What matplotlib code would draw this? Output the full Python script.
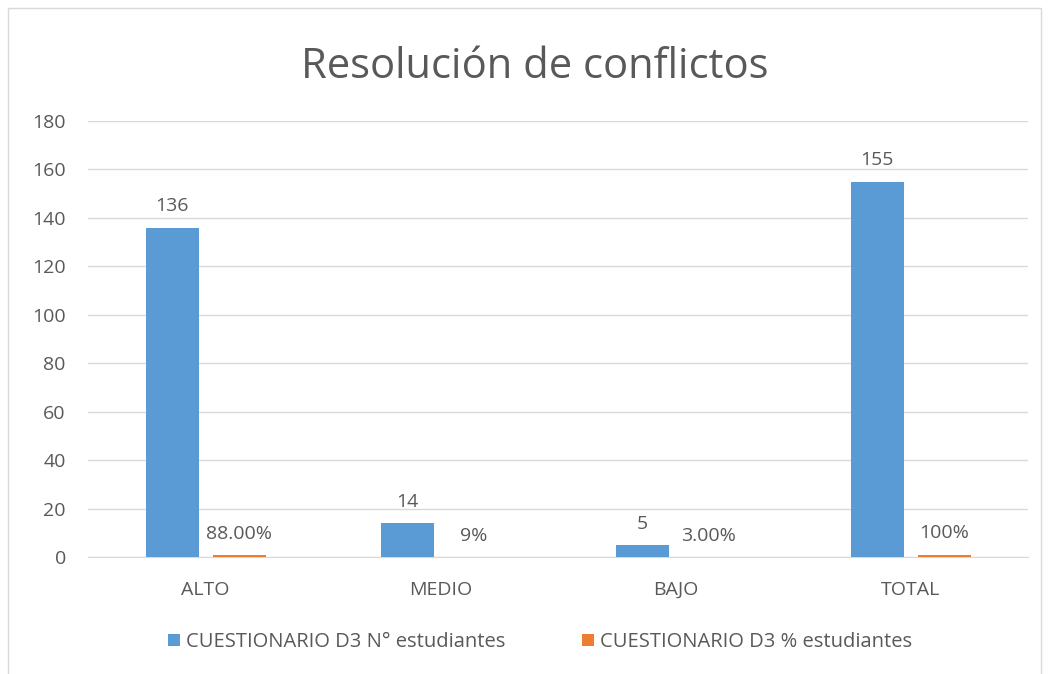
import numpy as np
import matplotlib.pyplot as plt
from matplotlib.patches import Rectangle

plt.rcParams['font.family'] = ['Open Sans', 'DejaVu Sans']

categories = ['ALTO', 'MEDIO', 'BAJO', 'TOTAL']
n_estudiantes = [136, 14, 5, 155]
pct_estudiantes = [0.88, 0.09, 0.03, 1.00]
pct_labels = ['88.00%', '9%', '3.00%', '100%']
series_names = ['CUESTIONARIO D3 N° estudiantes', 'CUESTIONARIO D3 % estudiantes']

blue = '#5b9bd5'
orange = '#ed7d31'
text_c = '#595959'
grid_c = '#d9d9d9'
fs = 14

W, H = 1049, 674
fig = plt.figure(figsize=(W / 100, H / 100), dpi=100)
# plot area in pixels: x 88..1028, y 121..557
ax = fig.add_axes([88 / W, 1 - 557 / H, 940 / W, 436 / H])

x = np.arange(len(categories))
bw = 53 / 235
off = 33.5 / 235
b1 = ax.bar(x - off, n_estudiantes, bw, color=blue, label=series_names[0], zorder=3)
b2 = ax.bar(x + off, pct_estudiantes, bw, color=orange, label=series_names[1], zorder=3)

for rect, v in zip(b1, n_estudiantes):
    ax.text(rect.get_x() + rect.get_width() / 2, v + 5, str(v), ha='center', va='bottom',
            fontsize=fs, color=text_c)
for rect, v, lab in zip(b2, pct_estudiantes, pct_labels):
    ax.text(rect.get_x() + rect.get_width() / 2, v + 5, lab, ha='center', va='bottom',
            fontsize=fs, color=text_c)

ax.set_xlim(-0.5, len(categories) - 0.5)
ax.set_ylim(0, 180)
ax.set_yticks(np.arange(0, 181, 20))
ax.set_xticks(x)
ax.set_xticklabels(categories)
ax.tick_params(axis='both', length=0, labelsize=fs, colors=text_c)
ax.tick_params(axis='x', pad=17)
ax.tick_params(axis='y', pad=16)
ax.yaxis.grid(True, color=grid_c, linewidth=1, zorder=0)
for s in ['top', 'right', 'left']:
    ax.spines[s].set_visible(False)
ax.spines['bottom'].set_color(grid_c)
ax.spines['bottom'].set_zorder(0)

fig.text(535 / W, 1 - 62 / H, 'Resolución de conflictos', ha='center', va='center_baseline',
         fontsize=30, color=text_c)

fig.legend(handles=[b1, b2], loc='center', bbox_to_anchor=(540 / W, 1 - 642 / H), ncol=2,
           frameon=False, fontsize=14.5, handlelength=0.6, handleheight=0.6,
           handletextpad=0.3, columnspacing=3.8, labelcolor=text_c)

# outer chart border
fig.patches.append(Rectangle((8 / W, -0.01), (1041 - 8) / W, 1 - 8 / H + 0.01,
                             transform=fig.transFigure, fill=False,
                             edgecolor=grid_c, linewidth=1))

fig.savefig('out.png', dpi=100)
